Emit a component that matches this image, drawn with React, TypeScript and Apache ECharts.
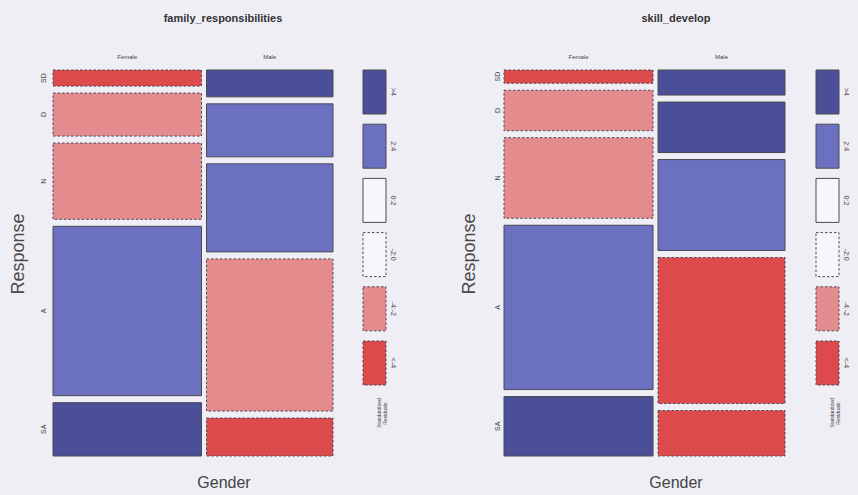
import React, { useEffect, useRef } from "react";
import * as echarts from "echarts";

// ---- data ----
const genders = ["Female", "Male"];
const responses = ["SD", "D", "N", "A", "SA"];
const genderShare = [54, 46];
const famFemale = [4.5, 12.0, 21.3, 47.3, 14.9];
const famMale = [7.5, 14.8, 24.6, 42.5, 10.6];
const famFemaleBand = ["<-4", "-4:-2", "-4:-2", "2:4", ">4"];
const famMaleBand = [">4", "2:4", "2:4", "-4:-2", "<-4"];
const skillFemale = [3.7, 11.3, 22.5, 45.9, 16.6];
const skillMale = [7.0, 14.1, 25.4, 40.8, 12.7];
const skillFemaleBand = ["<-4", "-4:-2", "-4:-2", "2:4", ">4"];
const skillMaleBand = [">4", ">4", "2:4", "<-4", "<-4"];
const bands = [">4", "2:4", "0:2", "-2:0", "-4:-2", "<-4"];

// ---- styles ----
const bandFill: Record<string, string> = {
  ">4": "#4b4f97",
  "2:4": "#6b70c0",
  "0:2": "#f7f6fb",
  "-2:0": "#f7f6fb",
  "-4:-2": "#e48b8e",
  "<-4": "#dc4a4c",
};
const isNeg = (b: string) => b === "-2:0" || b === "-4:-2" || b === "<-4";
const FONT = "Liberation Sans, Arial, sans-serif";
const GAP_X = 5;
const GAP_Y = 7;

const panels = [
  {
    title: "family_responsibilities",
    values: [famFemale, famMale],
    bandsOf: [famFemaleBand, famMaleBand],
    left: 53, top: 70, width: 280, height: 386,
    legendX: 363, labelX: 43, respX: 18, genderX: 224, titleX: 223,
  },
  {
    title: "skill_develop",
    values: [skillFemale, skillMale],
    bandsOf: [skillFemaleBand, skillMaleBand],
    left: 504, top: 70, width: 281, height: 386,
    legendX: 816, labelX: 497, respX: 469, genderX: 676, titleX: 676,
  },
];

function buildOption() {
  const grid: any[] = [];
  const xAxis: any[] = [];
  const yAxis: any[] = [];
  const series: any[] = [];
  const graphic: any[] = [];
  const gTotal = genderShare.reduce((a, b) => a + b, 0);

  panels.forEach((p, pi) => {
    grid.push({ left: p.left, top: p.top, width: p.width, height: p.height });
    xAxis.push({ type: "value", min: 0, max: 1, show: false, gridIndex: pi });
    yAxis.push({ type: "value", min: 0, max: 1, show: false, gridIndex: pi });

    const data: any[] = [];
    let gCum = 0;
    genders.forEach((g, gi) => {
      const x0 = gCum / gTotal;
      gCum += genderShare[gi];
      const x1 = gCum / gTotal;
      const vals = p.values[gi];
      const tot = vals.reduce((a, b) => a + b, 0);
      let rCum = 0;
      responses.forEach((r, ri) => {
        const y0 = rCum / tot;
        rCum += vals[ri];
        const y1 = rCum / tot;
        data.push([x0, x1, y0, y1, gi, ri, bands.indexOf(p.bandsOf[gi][ri])]);
      });
    });

    series.push({
      type: "custom",
      xAxisIndex: pi,
      yAxisIndex: pi,
      data,
      silent: true,
      renderItem: (params: any, api: any) => {
        const x0 = api.value(0), x1 = api.value(1), y0 = api.value(2), y1 = api.value(3);
        const gi = api.value(4), ri = api.value(5);
        const band = bands[api.value(6)];
        const tl = api.coord([0, 1]);
        const br = api.coord([1, 0]);
        const W = br[0] - tl[0] - GAP_X * (genders.length - 1);
        const H = br[1] - tl[1] - GAP_Y * (responses.length - 1);
        const x = tl[0] + x0 * W + gi * GAP_X;
        const y = tl[1] + y0 * H + ri * GAP_Y;
        return {
          type: "rect",
          shape: { x, y, width: (x1 - x0) * W, height: (y1 - y0) * H },
          style: {
            fill: bandFill[band],
            stroke: "#4a4a55",
            lineWidth: 1,
            lineDash: isNeg(band) ? [2.5, 2] : null,
          },
        };
      },
    });

    // title
    graphic.push({
      type: "text", x: p.titleX, y: 18,
      style: { text: p.title, font: `bold 11px ${FONT}`, fill: "#333", align: "center", verticalAlign: "middle" },
    });
    // gender labels
    const Wp = p.width - GAP_X;
    let c = 0;
    genders.forEach((g, gi) => {
      const cx = p.left + (c + genderShare[gi] / 2) / gTotal * Wp + gi * GAP_X;
      c += genderShare[gi];
      graphic.push({
        type: "text", x: cx, y: 57,
        style: { text: g, font: `6px ${FONT}`, fill: "#444", align: "center", verticalAlign: "middle" },
      });
    });
    // response labels (centred on first column tiles)
    const fv = p.values[0];
    const ft = fv.reduce((a, b) => a + b, 0);
    const Hp = p.height - GAP_Y * (responses.length - 1);
    let rc = 0;
    responses.forEach((r, ri) => {
      const cy = p.top + (rc + fv[ri] / 2) / ft * Hp + ri * GAP_Y;
      rc += fv[ri];
      graphic.push({
        type: "text", x: p.labelX, y: cy, rotation: Math.PI / 2,
        style: { text: r, font: `7px ${FONT}`, fill: "#444", align: "center", verticalAlign: "middle" },
      });
    });
    // axis titles
    graphic.push({
      type: "text", x: p.respX, y: 254, rotation: Math.PI / 2,
      style: { text: "Response", font: `18px ${FONT}`, fill: "#4a4a4a", align: "center", verticalAlign: "middle" },
    });
    graphic.push({
      type: "text", x: p.genderX, y: 482,
      style: { text: "Gender", font: `16px ${FONT}`, fill: "#444", align: "center", verticalAlign: "middle" },
    });
    // legend
    bands.forEach((b, bi) => {
      const y = 70 + bi * 54.2;
      graphic.push({
        type: "rect",
        shape: { x: p.legendX, y, width: 23, height: 44 },
        style: { fill: bandFill[b], stroke: "#4a4a55", lineWidth: 1, lineDash: isNeg(b) ? [2.5, 2] : null },
      });
      graphic.push({
        type: "text", x: p.legendX + 30, y: y + 22, rotation: -Math.PI / 2,
        style: { text: b, font: `7px ${FONT}`, fill: "#444", align: "center", verticalAlign: "middle" },
      });
    });
    graphic.push({
      type: "text", x: p.legendX + 19, y: 413, rotation: Math.PI / 2,
      style: { text: "Standardized\nResiduals:", font: `5px ${FONT}`, fill: "#444", align: "center", verticalAlign: "middle", lineHeight: 6 },
    });
  });

  return {
    animation: false,
    backgroundColor: "#efeef5",
    grid,
    xAxis,
    yAxis,
    series,
    graphic,
  };
}

export default function App() {
  const ref = useRef<HTMLDivElement>(null);
  useEffect(() => {
    if (!ref.current) return;
    const chart = echarts.init(ref.current, undefined, { renderer: "svg" });
    chart.setOption(buildOption() as any);
    return () => chart.dispose();
  }, []);
  return (
    <div
      ref={ref}
      style={{ position: "absolute", left: 0, top: 0, width: 858, height: 495 }}
    />
  );
}
